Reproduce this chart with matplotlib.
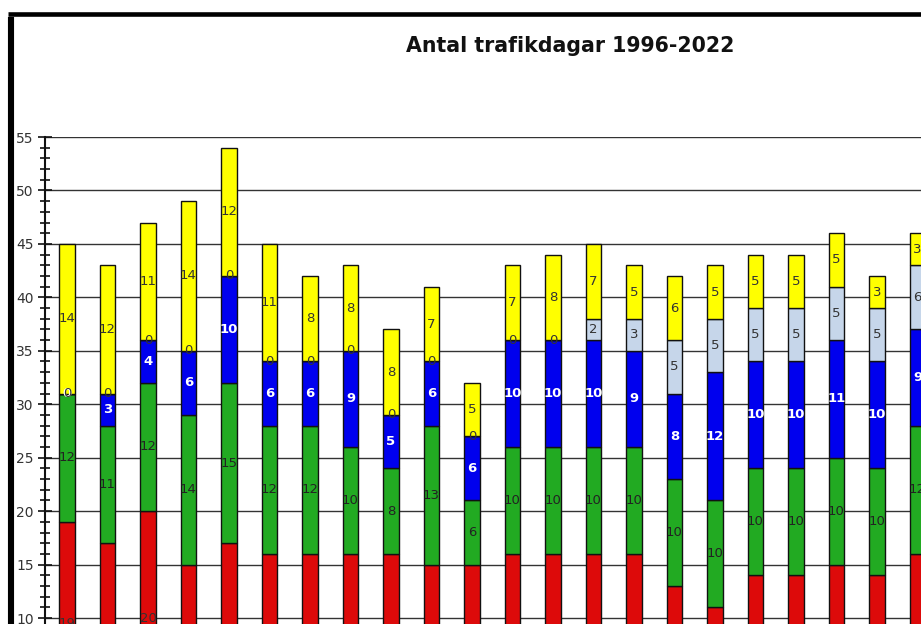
import numpy as np
import matplotlib
matplotlib.use("Agg")
import matplotlib.pyplot as plt
from matplotlib.lines import Line2D

# Antal trafikdagar per år (the visible part of the chart: 1996-2017)
years = list(range(1996, 2018))
red = [19, 17, 20, 15, 17, 16, 16, 16, 16, 15, 15, 16, 16, 16, 16, 13, 11, 14, 14, 15, 14, 16]
green = [12, 11, 12, 14, 15, 12, 12, 10, 8, 13, 6, 10, 10, 10, 10, 10, 10, 10, 10, 10, 10, 12]
blue = [0, 3, 4, 6, 10, 6, 6, 9, 5, 6, 6, 10, 10, 10, 9, 8, 12, 10, 10, 11, 10, 9]
lightblue = [0, 0, 0, 0, 0, 0, 0, 0, 0, 0, 0, 0, 0, 2, 3, 5, 5, 5, 5, 5, 5, 6]
yellow = [14, 12, 11, 14, 12, 11, 8, 8, 8, 7, 5, 7, 8, 7, 5, 6, 5, 5, 5, 5, 3, 3]

series = [
    (red, '#dd0a0a', '#333333', 'normal'),
    (green, '#22aa22', '#222222', 'normal'),
    (blue, '#0000ee', 'white', 'bold'),
    (lightblue, '#c6d6ea', '#333333', 'normal'),
    (yellow, '#ffff00', '#333333', 'normal'),
]

fig = plt.figure(figsize=(9.21, 6.24), dpi=100)
# the chart is cropped: axes runs past the right and bottom edges
ax = fig.add_axes([45 / 921, -0.1617, 1093.5 / 921, 0.9421])

x = np.arange(len(years))
bottom = np.zeros(len(years))
for values, color, txt_color, weight in series:
    vals = np.array(values, dtype=float)
    bars = ax.bar(x, vals, width=0.39, bottom=bottom, color=color,
                  edgecolor='#111111', linewidth=1.0, zorder=3)
    ax.bar_label(bars, labels=[str(v) for v in values], label_type='center',
                 color=txt_color, fontsize=9.5, fontweight=weight, zorder=4)
    bottom += vals

ax.set_xlim(-0.543, 26.457)
ax.set_ylim(0, 55)
ax.set_yticks(np.arange(0, 56, 5))
ax.set_yticks(np.arange(0, 56, 1), minor=True)
ax.tick_params(axis='y', which='major', direction='inout', length=10,
               width=1.2, color='#111111', labelsize=10, labelcolor='#333333',
               pad=3)
ax.tick_params(axis='y', which='minor', direction='inout', length=7,
               width=1.2, color='#111111')
ax.set_xticks([])
ax.yaxis.grid(True, which='major', color='#333333', linewidth=1.0)
ax.set_axisbelow(True)
for side in ['top', 'right', 'bottom']:
    ax.spines[side].set_visible(False)
ax.spines['left'].set_color('#111111')
ax.spines['left'].set_linewidth(1.5)

fig.text(570 / 921, 1 - 46 / 624, 'Antal trafikdagar 1996-2022',
         ha='center', va='center', fontsize=14.8, fontweight='bold',
         color='#111111')

# black frame of the original image
fig.add_artist(Line2D([11 / 921, 11 / 921], [0, 1 - 16.5 / 624],
                      transform=fig.transFigure, color='black', linewidth=4.4,
                      solid_capstyle='butt'))
fig.add_artist(Line2D([8 / 921, 1], [1 - 14.3 / 624, 1 - 14.3 / 624],
                      transform=fig.transFigure, color='black', linewidth=3.3,
                      solid_capstyle='butt'))

fig.savefig('out.png', dpi=100)
